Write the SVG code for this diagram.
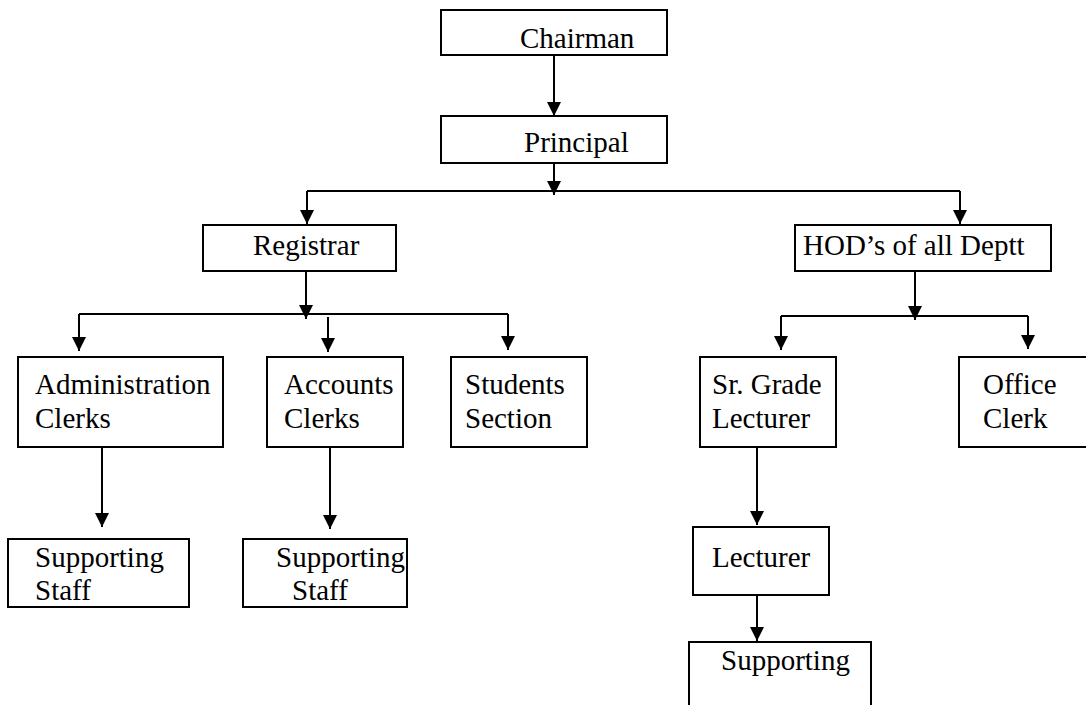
<svg xmlns="http://www.w3.org/2000/svg" width="1086" height="705" viewBox="0 0 1086 705">
<style>
.box{fill:#fff;stroke:#000;stroke-width:2}
.t{font-family:'Liberation Serif','Times New Roman',serif;font-size:29px;fill:#000}
.c{stroke:#000;stroke-width:2;fill:none}
</style>
<defs>
<marker id="ah" markerUnits="userSpaceOnUse" markerWidth="15" markerHeight="14" refX="14" refY="7" orient="auto" viewBox="0 0 15 14">
<path d="M0,0 L14,7 L0,14 Z" fill="#000"/>
</marker>
</defs>
<rect width="1086" height="705" fill="#fff"/>
<g id="connectors">
<line class="c" x1="554" y1="55" x2="554" y2="116" marker-end="url(#ah)"/>
<line class="c" x1="554" y1="163" x2="554" y2="195" marker-end="url(#ah)"/>
<line class="c" x1="307" y1="191" x2="960" y2="191"/>
<line class="c" x1="307" y1="191" x2="307" y2="224" marker-end="url(#ah)"/>
<line class="c" x1="960" y1="191" x2="960" y2="224" marker-end="url(#ah)"/>
<line class="c" x1="306" y1="271" x2="306" y2="319" marker-end="url(#ah)"/>
<line class="c" x1="79" y1="314" x2="508" y2="314"/>
<line class="c" x1="79" y1="314" x2="79" y2="351" marker-end="url(#ah)"/>
<line class="c" x1="328" y1="317" x2="328" y2="352" marker-end="url(#ah)"/>
<line class="c" x1="508" y1="314" x2="508" y2="350" marker-end="url(#ah)"/>
<line class="c" x1="915" y1="271" x2="915" y2="320" marker-end="url(#ah)"/>
<line class="c" x1="781" y1="316" x2="1028" y2="316"/>
<line class="c" x1="781" y1="316" x2="781" y2="350" marker-end="url(#ah)"/>
<line class="c" x1="1028" y1="316" x2="1028" y2="349" marker-end="url(#ah)"/>
<line class="c" x1="102" y1="447" x2="102" y2="527" marker-end="url(#ah)"/>
<line class="c" x1="330" y1="448" x2="330" y2="529" marker-end="url(#ah)"/>
<line class="c" x1="757" y1="443" x2="757" y2="525" marker-end="url(#ah)"/>
<line class="c" x1="757" y1="592" x2="757" y2="641" marker-end="url(#ah)"/>
</g>
<g font-family="'Liberation Serif','Times New Roman',serif" font-size="29">
<g id="chairman"><rect class="box" x="441" y="10" width="226" height="45"/><text class="t" x="520" y="48">Chairman</text></g>
<g id="principal"><rect class="box" x="441" y="116" width="226" height="47"/><text class="t" x="524" y="152">Principal</text></g>
<g id="registrar"><rect class="box" x="203" y="225" width="193" height="46"/><text class="t" x="253" y="255">Registrar</text></g>
<g id="hod"><rect class="box" x="795" y="225" width="256" height="46"/><text class="t" x="803" y="255">HOD’s of all Deptt</text></g>
<g id="admin"><rect class="box" x="18" y="357" width="205" height="90"/><text class="t" x="35" y="394">Administration</text><text class="t" x="35" y="428">Clerks</text></g>
<g id="accounts"><rect class="box" x="267" y="357" width="136" height="90"/><text class="t" x="284" y="394">Accounts</text><text class="t" x="284" y="428">Clerks</text></g>
<g id="students"><rect class="box" x="451" y="357" width="136" height="90"/><text class="t" x="465" y="394">Students</text><text class="t" x="465" y="428">Section</text></g>
<g id="srgrade"><rect class="box" x="700" y="357" width="136" height="90"/><text class="t" x="712" y="394">Sr. Grade</text><text class="t" x="712" y="428">Lecturer</text></g>
<g id="office"><rect class="box" x="959" y="357" width="140" height="90"/><text class="t" x="983" y="394">Office</text><text class="t" x="983" y="428">Clerk</text></g>
<g id="support1"><rect class="box" x="8" y="539" width="181" height="68"/><text class="t" x="35" y="567">Supporting</text><text class="t" x="35" y="600">Staff</text></g>
<g id="support2"><rect class="box" x="243" y="539" width="164" height="68"/><text class="t" x="276" y="567">Supporting</text><text class="t" x="292" y="600">Staff</text></g>
<g id="lecturer"><rect class="box" x="693" y="527" width="136" height="68"/><text class="t" x="712" y="567">Lecturer</text></g>
<g id="support3"><rect class="box" x="689" y="642" width="182" height="80"/><text class="t" x="721" y="670">Supporting</text></g>
</g>
</svg>
